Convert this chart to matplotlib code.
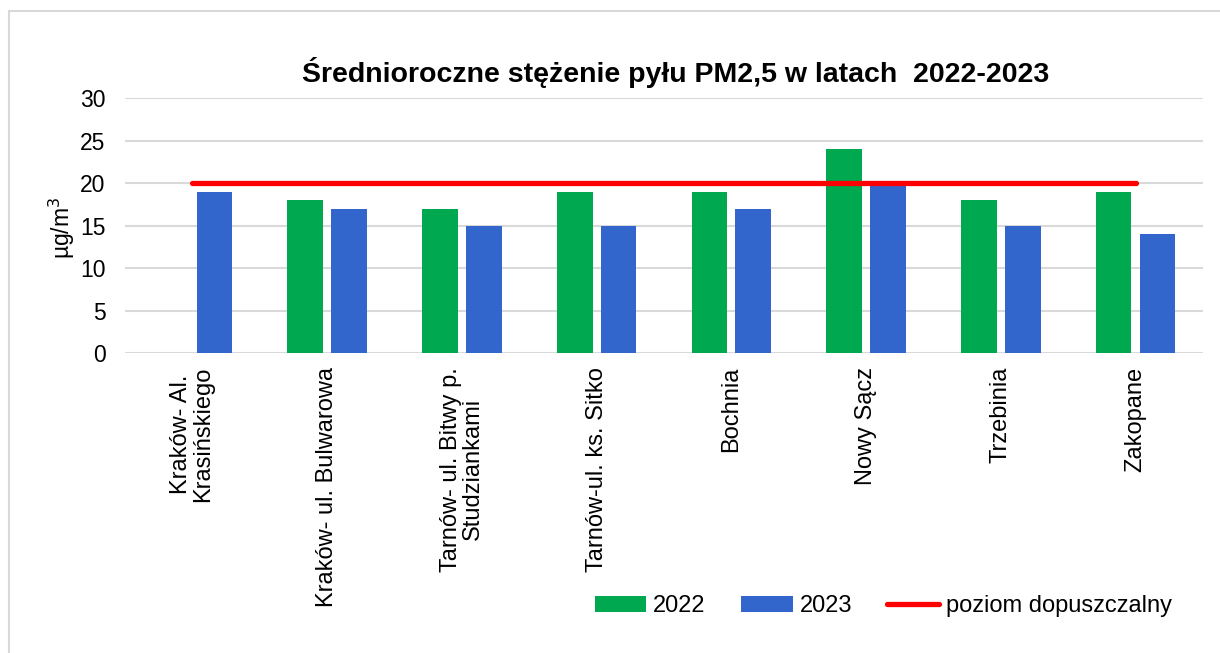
import numpy as np
import matplotlib
matplotlib.use("Agg")
import matplotlib.pyplot as plt
from matplotlib.patches import Rectangle

plt.rcParams["font.family"] = ["Liberation Sans", "DejaVu Sans"]

# Stations and yearly average PM2.5 (ug/m3)
stations = [
    "Kraków- Al.\nKrasińskiego",
    "Kraków- ul. Bulwarowa",
    "Tarnów- ul. Bitwy p.\nStudziankami",
    "Tarnów-ul. ks. Sitko",
    "Bochnia",
    "Nowy Sącz",
    "Trzebinia",
    "Zakopane",
]
pm_2022 = [np.nan, 18, 17, 19, 19, 24, 18, 19]
pm_2023 = [19, 17, 15, 15, 17, 20, 15, 14]
limit = [20, 20, 20, 20, 20, 20, 20, 20]
y_ticks = [0, 5, 10, 15, 20, 25, 30]

GREEN = "#00a84f"
BLUE = "#3366cc"
RED = "#ff0000"
GRID = "#d9d9d9"

fig = plt.figure(figsize=(12.2, 6.53), dpi=100)
ax = fig.add_axes([0.1025, 0.4594, 0.8835, 0.3905])

x = np.arange(len(stations))
width = 0.265
offset = 0.163
b22 = ax.bar(x - offset, pm_2022, width, color=GREEN, label="2022", zorder=2)
b23 = ax.bar(x + offset, pm_2023, width, color=BLUE, label="2023", zorder=2)
line, = ax.plot(x, limit, color=RED, lw=3.8, solid_capstyle="round",
                label="poziom dopuszczalny", zorder=3)

ax.set_xlim(-0.5, len(stations) - 0.5)
ax.set_ylim(0, 30)
ax.set_yticks(y_ticks)
ax.yaxis.grid(True, color=GRID, lw=1.5, zorder=0)
ax.set_axisbelow(True)
for side in ("top", "right", "left", "bottom"):
    ax.spines[side].set_visible(False)
ax.tick_params(axis="both", length=0)
ax.tick_params(axis="y", labelsize=16.5, pad=14)
ax.tick_params(axis="x", pad=10)
ax.set_xticks(x)
ax.set_xticklabels(stations, rotation=90, ha="center", va="top",
                   multialignment="center", fontsize=17, linespacing=1.0)

fig.text(0.051, 1 - 228 / 653, "µg/m$^3$", rotation=90, fontsize=16.5,
         ha="center", va="center")
fig.text(0.554, 1 - 73 / 653, "Średnioroczne stężenie pyłu PM2,5 w latach  2022-2023",
         fontsize=20.5, fontweight="bold", ha="center", va="center")

fig.legend([b22, b23, line], ["2022", "2023", "poziom dopuszczalny"],
           loc="center", bbox_to_anchor=(0.724, 1 - 606 / 653), ncol=3,
           frameon=False, fontsize=17, handlelength=2.2, handleheight=0.65,
           handletextpad=0.28, columnspacing=1.5)

# light frame around the chart area
fig.add_artist(Rectangle((8.5 / 1220, -0.05), 1.1, 1.05 - 11 / 653,
                         transform=fig.transFigure, fill=False,
                         edgecolor=GRID, lw=1.5))

fig.savefig("out.png", dpi=100)
